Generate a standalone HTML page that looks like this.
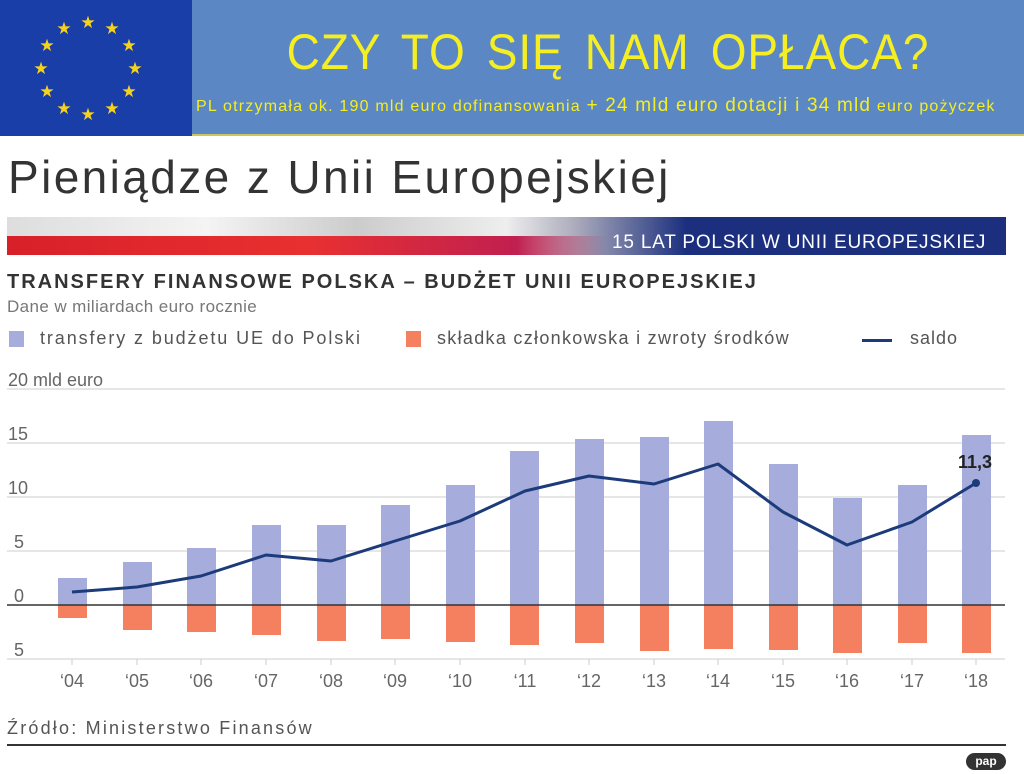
<!DOCTYPE html>
<html><head><meta charset="utf-8"><style>
body{margin:0;width:1024px;height:774px;background:#fff;overflow:hidden;font-family:"Liberation Sans",sans-serif;position:relative}
.a{position:absolute;font-family:"Liberation Sans",sans-serif;white-space:nowrap}
</style></head><body>
<div class="a" style="left:0;top:0;width:192px;height:136px;background:#1a3ea8"></div>
<svg class="a" style="left:0;top:0" width="192" height="136">
<g fill="#f7d21c" font-size="17" text-anchor="middle">
<text x="88" y="28">★</text><text x="112" y="34">★</text><text x="129" y="51">★</text><text x="135" y="74">★</text><text x="129" y="97">★</text><text x="112" y="114">★</text><text x="88" y="120">★</text><text x="64" y="114">★</text><text x="47" y="97">★</text><text x="41" y="74">★</text><text x="47" y="51">★</text><text x="64" y="34">★</text>
</g></svg>
<div class="a" style="left:192px;top:0;width:832px;height:134px;background:#5b87c4;border-bottom:2px solid #c8c860"></div>
<div class="a" style="left:192px;top:22px;width:832px;text-align:center;color:#f4ee22;font-size:50px;letter-spacing:1px;word-spacing:8px;line-height:60px;transform:scaleX(0.92)">CZY TO SIĘ NAM OPŁACA?</div>
<div class="a" style="left:196px;top:95px;width:820px;color:#f4ee22;font-size:16px;letter-spacing:1.2px">PL otrzymała ok. 190 mld euro dofinansowania <span style="font-size:19px">+ 24 mld euro dotacji i 34 mld</span> euro pożyczek</div>
<div class="a" style="left:8px;top:150px;font-size:46px;color:#333;letter-spacing:2.4px">Pieniądze z Unii Europejskiej</div>
<div class="a" style="left:7px;top:217px;width:999px;height:38px;background:linear-gradient(90deg,#ddd 0%,#f4f4f4 20%,#ccc 35%,#eee 50%,#aab 57%,#1b2f7e 68%,#1b2f7e 100%)"></div>
<div class="a" style="left:7px;top:236px;width:600px;height:19px;background:linear-gradient(90deg,#d8202a 0%,#e83030 50%,#c02050 85%,rgba(60,40,120,0) 100%)"></div>
<div class="a" style="left:612px;top:232px;color:#fff;font-size:19px;letter-spacing:0.8px">15 LAT POLSKI W UNII EUROPEJSKIEJ</div>
<div class="a" style="left:7px;top:271px;font-size:20px;font-weight:bold;color:#333;letter-spacing:2px">TRANSFERY FINANSOWE POLSKA – BUDŻET UNII EUROPEJSKIEJ</div>
<div class="a" style="left:7px;top:297px;font-size:17px;color:#777;letter-spacing:0.4px">Dane w miliardach euro rocznie</div>
<div class="a" style="left:9px;top:331px;width:15px;height:16px;background:#a6acdc"></div>
<div class="a" style="left:40px;top:328px;font-size:18px;color:#555;letter-spacing:1.9px">transfery z budżetu UE do Polski</div>
<div class="a" style="left:406px;top:331px;width:15px;height:16px;background:#f5805f"></div>
<div class="a" style="left:437px;top:328px;font-size:18px;color:#555;letter-spacing:1.3px">składka członkowska i zwroty środków</div>
<div class="a" style="left:862px;top:339px;width:30px;height:3px;background:#1c3b7a"></div>
<div class="a" style="left:910px;top:328px;font-size:18px;color:#555;letter-spacing:1px">saldo</div>
<svg class="a" style="left:0;top:360px" width="1024" height="340">
<g font-size="18" fill="#666" font-family="Liberation Sans, sans-serif">
<text x="8" y="26">20 mld euro</text><text x="8" y="80">15</text><text x="8" y="134">10</text><text x="14" y="188">5</text><text x="14" y="242">0</text><text x="14" y="296">5</text>
</g>
<g stroke="#ddd" stroke-width="1.5">
<line x1="7" x2="1005" y1="29" y2="29"/><line x1="7" x2="1005" y1="83" y2="83"/><line x1="7" x2="1005" y1="137" y2="137"/><line x1="7" x2="1005" y1="191" y2="191"/><line x1="7" x2="1005" y1="299" y2="299"/>
</g>
<g fill="#a6acdc">
<rect x="58" y="218" width="29" height="27"/><rect x="123" y="202" width="29" height="43"/><rect x="187" y="188" width="29" height="57"/><rect x="252" y="165" width="29" height="80"/><rect x="317" y="165" width="29" height="80"/><rect x="381" y="145" width="29" height="100"/><rect x="446" y="125" width="29" height="120"/><rect x="510" y="91" width="29" height="154"/><rect x="575" y="79" width="29" height="166"/><rect x="640" y="77" width="29" height="168"/><rect x="704" y="61" width="29" height="184"/><rect x="769" y="104" width="29" height="141"/><rect x="833" y="138" width="29" height="107"/><rect x="898" y="125" width="29" height="120"/><rect x="962" y="75" width="29" height="170"/>
</g>
<g fill="#f5805f">
<rect x="58" y="245" width="29" height="13"/><rect x="123" y="245" width="29" height="25"/><rect x="187" y="245" width="29" height="27"/><rect x="252" y="245" width="29" height="30"/><rect x="317" y="245" width="29" height="36"/><rect x="381" y="245" width="29" height="34"/><rect x="446" y="245" width="29" height="37"/><rect x="510" y="245" width="29" height="40"/><rect x="575" y="245" width="29" height="38"/><rect x="640" y="245" width="29" height="46"/><rect x="704" y="245" width="29" height="44"/><rect x="769" y="245" width="29" height="45"/><rect x="833" y="245" width="29" height="48"/><rect x="898" y="245" width="29" height="38"/><rect x="962" y="245" width="29" height="48"/>
</g>
<line x1="7" x2="1005" y1="245" y2="245" stroke="#333" stroke-width="1.5"/>
<polyline fill="none" stroke="#1c3b7a" stroke-width="3" stroke-linejoin="round" points="72,232 137,227 201,216 266,195 331,201 395,181 460,161 525,131 589,116 654,124 718,104 783,152 847,185 912,162 976,123"/>
<circle cx="976" cy="123" r="4" fill="#1c3b7a"/>
<text x="975" y="108" font-size="18" font-weight="bold" fill="#222" text-anchor="middle" font-family="Liberation Sans, sans-serif">11,3</text>
<g stroke="#ccc"><line x1="72" x2="72" y1="299" y2="305"/><line x1="137" x2="137" y1="299" y2="305"/><line x1="201" x2="201" y1="299" y2="305"/><line x1="266" x2="266" y1="299" y2="305"/><line x1="331" x2="331" y1="299" y2="305"/><line x1="395" x2="395" y1="299" y2="305"/><line x1="460" x2="460" y1="299" y2="305"/><line x1="525" x2="525" y1="299" y2="305"/><line x1="589" x2="589" y1="299" y2="305"/><line x1="654" x2="654" y1="299" y2="305"/><line x1="718" x2="718" y1="299" y2="305"/><line x1="783" x2="783" y1="299" y2="305"/><line x1="847" x2="847" y1="299" y2="305"/><line x1="912" x2="912" y1="299" y2="305"/><line x1="976" x2="976" y1="299" y2="305"/></g>
<g font-size="18" fill="#666" text-anchor="middle" font-family="Liberation Sans, sans-serif">
<text x="72" y="327">‘04</text><text x="137" y="327">‘05</text><text x="201" y="327">‘06</text><text x="266" y="327">‘07</text><text x="331" y="327">‘08</text><text x="395" y="327">‘09</text><text x="460" y="327">‘10</text><text x="525" y="327">‘11</text><text x="589" y="327">‘12</text><text x="654" y="327">‘13</text><text x="718" y="327">‘14</text><text x="783" y="327">‘15</text><text x="847" y="327">‘16</text><text x="912" y="327">‘17</text><text x="976" y="327">‘18</text>
</g>
</svg>
<div class="a" style="left:7px;top:718px;font-size:18px;color:#555;letter-spacing:2.2px">Źródło: Ministerstwo Finansów</div>
<div class="a" style="left:7px;top:744px;width:999px;height:2px;background:#333"></div>
<div class="a" style="left:966px;top:753px;width:40px;height:17px;border-radius:9px;background:#333;color:#fff;font-size:12px;font-weight:bold;text-align:center;line-height:17px">pap</div>
</body></html>
